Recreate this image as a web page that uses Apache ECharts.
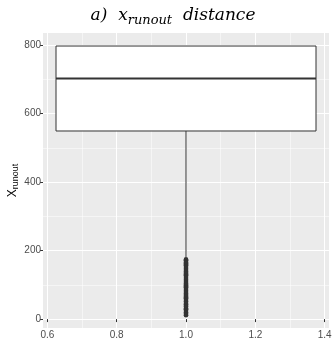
<!DOCTYPE html>
<html><head><meta charset="utf-8">
<script src="https://cdn.jsdelivr.net/npm/echarts@6/dist/echarts.min.js"></script>
<style>html,body{margin:0;padding:0;background:#fff}#c{width:333px;height:339px}</style>
</head><body><div id="c"></div>
<script>
// box statistics: lower whisker, Q1, median, Q3, upper whisker
const boxX = 1.0;
const boxStats = [180, 549, 702, 797, 797];
const outliers = [175, 172, 170, 167, 165, 163, 160, 157, 155, 152, 149, 147, 144, 141, 139, 136, 133, 131, 128, 126, 123, 120, 117, 115, 112, 109, 106, 104, 101, 99, 96, 93, 91, 88, 85, 83, 80, 77, 75, 72, 69, 66, 64, 61, 59, 56, 53, 51, 48, 45, 43, 40, 37, 35, 32, 29, 27, 24, 21, 19, 16, 13, 11];
const yTicks = [0, 200, 400, 600, 800];
const yMinor = [100, 300, 500, 700];
const xTicks = [0.6, 0.8, 1.0, 1.2, 1.4];
const xMinor = [0.7, 0.9, 1.1, 1.3];

const chart = echarts.init(document.getElementById('c'), null, {renderer: 'canvas'});
const lbl = {color: '#4d4d4d', fontSize: 10, fontFamily: 'Liberation Sans'};
const xMinV = 0.5875, xMaxV = 1.4125, yMinV = -26, yMaxV = 835;

chart.setOption({
  animation: false,
  title: {
    text: '{a|a)  x}{s|runout}{a|  distance}',
    left: 168, textAlign: 'center', top: 0,
    textStyle: {
      fontWeight: 'normal',
      rich: {
        a: {fontFamily: 'DejaVu Serif', fontStyle: 'italic', fontWeight: 'normal', fontSize: 17, color: '#000'},
        s: {fontFamily: 'DejaVu Serif', fontStyle: 'italic', fontWeight: 'normal', fontSize: 13, color: '#000', padding: [9, 0, 0, 0]}
      }
    }
  },
  grid: {left: 43, right: 4, top: 33, bottom: 11, show: true, backgroundColor: '#EBEBEB', borderWidth: 0, containLabel: false, outerBoundsMode: 'none'},
  xAxis: [{
    type: 'value', min: xMinV, max: xMaxV,
    axisLine: {show: false},
    axisTick: {show: true, length: 3, customValues: xTicks, lineStyle: {color: '#333'}},
    axisLabel: Object.assign({customValues: xTicks, margin: 2, formatter: v => v.toFixed(1)}, lbl),
    splitLine: {show: true, lineStyle: {color: '#fff', width: 1}}
  }, {
    type: 'value', min: xMinV, max: xMaxV, position: 'bottom',
    axisLine: {show: false},
    axisTick: {show: false, customValues: xMinor},
    axisLabel: {show: false, customValues: xMinor},
    splitLine: {show: true, lineStyle: {color: '#fff', width: 0.5}}
  }],
  yAxis: [{
    type: 'value', min: yMinV, max: yMaxV,
    name: '{x|X}{s|runout}', nameLocation: 'middle', nameRotate: 90, nameGap: 23, nameMoveOverlap: false,
    nameTextStyle: {
      rich: {
        x: {fontSize: 12, color: '#000', fontFamily: 'Liberation Sans'},
        s: {fontSize: 9, color: '#000', fontFamily: 'Liberation Sans', padding: [6, 0, 0, 0]}
      }
    },
    axisLine: {show: false},
    axisTick: {show: true, length: 3, customValues: yTicks, lineStyle: {color: '#333'}},
    axisLabel: Object.assign({customValues: yTicks, margin: 2}, lbl),
    splitLine: {show: true, lineStyle: {color: '#fff', width: 1}}
  }, {
    type: 'value', min: yMinV, max: yMaxV, position: 'left',
    axisLine: {show: false},
    axisTick: {show: false, customValues: yMinor},
    axisLabel: {show: false, customValues: yMinor},
    splitLine: {show: true, lineStyle: {color: '#fff', width: 0.5}}
  }],
  series: [{
    type: 'custom',
    xAxisIndex: 0, yAxisIndex: 0,
    data: [[boxX].concat(boxStats)],
    z: 3,
    renderItem: function (params, api) {
      const x = api.value(0), lo = api.value(1), q1 = api.value(2), med = api.value(3), q3 = api.value(4), hi = api.value(5);
      const hw = 0.375;
      const pTL = api.coord([x - hw, q3]);
      const pBR = api.coord([x + hw, q1]);
      const pMedL = api.coord([x - hw, med]);
      const pMedR = api.coord([x + hw, med]);
      const pLo = api.coord([x, lo]);
      const pQ1 = api.coord([x, q1]);
      const pQ3 = api.coord([x, q3]);
      const pHi = api.coord([x, hi]);
      const st = {stroke: '#333', lineWidth: 1, fill: null};
      return {
        type: 'group',
        children: [
          {type: 'line', shape: {x1: pLo[0], y1: pLo[1], x2: pQ1[0], y2: pQ1[1]}, style: st},
          {type: 'line', shape: {x1: pQ3[0], y1: pQ3[1], x2: pHi[0], y2: pHi[1]}, style: st},
          {type: 'rect', shape: {x: pTL[0], y: pTL[1], width: pBR[0] - pTL[0], height: pBR[1] - pTL[1]}, style: {fill: '#fff', stroke: '#333', lineWidth: 1}},
          {type: 'line', shape: {x1: pMedL[0], y1: pMedL[1], x2: pMedR[0], y2: pMedR[1]}, style: {stroke: '#333', lineWidth: 2}}
        ]
      };
    }
  }, {
    type: 'scatter',
    xAxisIndex: 0, yAxisIndex: 0,
    z: 4,
    symbolSize: 4.5,
    itemStyle: {color: '#333', opacity: 1},
    data: outliers.map(v => [boxX, v])
  }]
});
</script>
</body></html>
